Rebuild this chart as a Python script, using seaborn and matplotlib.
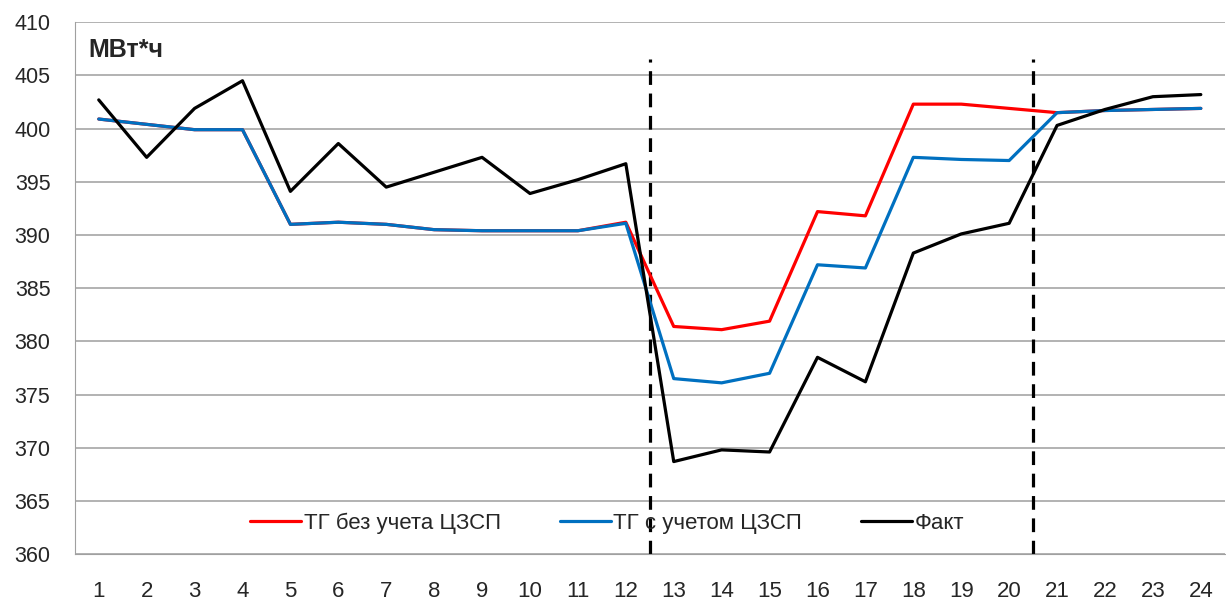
import numpy as np
import pandas as pd
import matplotlib
matplotlib.use('Agg')
import matplotlib.pyplot as plt
import seaborn as sns

# hours of the day
hours = list(range(1, 25))

# ТГ без учета ЦЗСП
tg_no_czsp = [400.9, 400.4, 399.9, 399.9, 391.0, 391.2, 391.0, 390.5, 390.4, 390.4, 390.4, 391.2,
              381.4, 381.1, 381.9, 392.2, 391.8, 402.3, 402.3, 401.9, 401.5, 401.7, 401.8, 401.9]
# ТГ с учетом ЦЗСП
tg_czsp = [400.9, 400.4, 399.9, 399.9, 391.0, 391.2, 391.0, 390.5, 390.4, 390.4, 390.4, 391.1,
           376.5, 376.1, 377.0, 387.2, 386.9, 397.3, 397.1, 397.0, 401.5, 401.7, 401.8, 401.9]
# Факт
fact = [402.7, 397.3, 401.9, 404.5, 394.1, 398.6, 394.5, 395.9, 397.3, 393.9, 395.2, 396.7,
        368.7, 369.8, 369.6, 378.5, 376.2, 388.3, 390.1, 391.1, 400.3, 401.8, 403.0, 403.2]

series_names = ["ТГ без учета ЦЗСП", "ТГ с учетом ЦЗСП", "Факт"]
colors = ["#ff0000", "#0070c0", "#000000"]
boundaries = [12.5, 20.5]

df = pd.concat([
    pd.DataFrame({"hour": hours, "value": vals, "series": name})
    for name, vals in zip(series_names, [tg_no_czsp, tg_czsp, fact])
])

sns.set_style("white")
plt.rcParams['font.family'] = ['Liberation Sans', 'DejaVu Sans']

fig, ax = plt.subplots(figsize=(12.26, 6.01), dpi=100)
fig.subplots_adjust(left=0.061, right=0.999, top=0.963, bottom=0.078)

sns.lineplot(data=df, x="hour", y="value", hue="series", hue_order=series_names,
             palette=colors, linewidth=2.3, ax=ax)

# dashed separators between periods
for b in boundaries:
    ax.plot([b, b], [360, 406.5], color="black", linestyle=(0, (4.3, 2.7)), linewidth=2.3,
            zorder=1)

ax.set_xlim(0.5, 24.5)
ax.set_ylim(360, 410)
ax.set_yticks(np.arange(360, 411, 5))
ax.set_xticks(hours)
ax.set_xticks(np.arange(0.5, 25, 1), minor=True)
ax.tick_params(axis="x", which="major", length=0, pad=19, labelsize=16)
ax.tick_params(axis="x", which="minor", length=6.5, color="#a0a0a0", direction="out")
ax.tick_params(axis="y", length=6.5, color="#a0a0a0", direction="out", labelsize=15.5, pad=11)
ax.yaxis.grid(True, color="#a6a6a6", linewidth=1.2)
ax.set_axisbelow(True)

for side in ["top", "right"]:
    ax.spines[side].set_visible(False)
ax.spines["left"].set_color("#a0a0a0")
ax.spines["bottom"].set_color("#a0a0a0")

ax.set_xlabel("")
ax.set_ylabel("")
ax.text(0.012, 0.947, "МВт*ч", transform=ax.transAxes, fontsize=18, fontweight="bold",
        va="center", ha="left")

ax.legend(loc="center", bbox_to_anchor=(0.463, 0.058), ncol=3, frameon=False, fontsize=16,
          handlelength=2.3, columnspacing=2.65, handletextpad=0.12)

plt.savefig("out.png", dpi=100)
